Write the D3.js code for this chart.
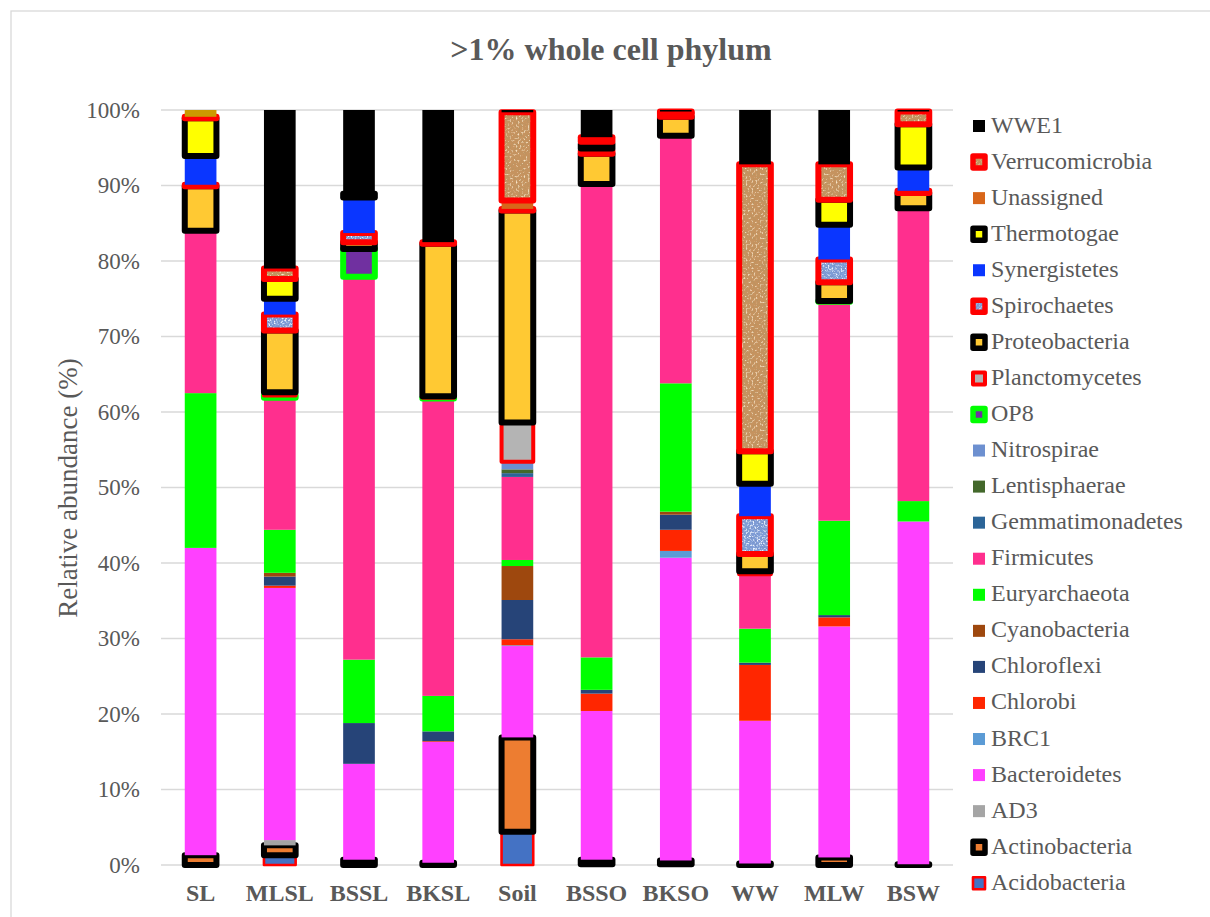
<!DOCTYPE html>
<html>
<head>
<meta charset="utf-8">
<script src="https://cdn.jsdelivr.net/npm/d3@7"></script>
<style>
  html, body { margin: 0; padding: 0; background: #fff; }
  svg { display: block; }
  text { font-family: "Liberation Serif", "Times New Roman", serif; fill: #595959; }
</style>
</head>
<body>
<svg id="chart" width="1210" height="917"></svg>
<script>
// Samples along the x axis
const samples = ["SL", "MLSL", "BSSL", "BKSL", "Soil", "BSSO", "BKSO", "WW", "MLW", "BSW"];

// Relative abundance (%) per phylum, one value per sample (same order as samples)
const acidobacteria    = [0,    1.3,  0,    0,    4.4,  0.1,  0.1,  0,    0,    0];
const actinobacteria   = [1.3,  1.3,  0.7,  0.3,  12.5, 0.6,  0.5,  0.2,  1.0,  0.1];
const ad3              = [0,    0.7,  0,    0,    0,    0,    0,    0,    0,    0];
const bacteroidetes    = [40.7, 33.4, 12.7, 16.0, 12.1, 19.7, 40.1, 18.9, 30.6, 45.4];
const brc1             = [0,    0,    0,    0,    0.1,  0,    0.9,  0,    0,    0];
const chlorobi         = [0,    0.3,  0,    0.1,  0.8,  2.3,  2.8,  7.4,  1.2,  0];
const chloroflexi      = [0,    1.2,  5.4,  1.3,  5.2,  0.5,  2.0,  0.3,  0.3,  0];
const cyanobacteria    = [0,    0.5,  0,    0,    4.5,  0,    0.4,  0,    0,    0];
const euryarchaeota    = [20.5, 5.7,  8.4,  4.7,  0.8,  4.3,  17.0, 4.5,  12.5, 2.7];
const firmicutes       = [21.5, 17.2, 50.7, 39.4, 11.0, 62.7, 32.8, 7.2,  29.0, 38.8];
const gemmatimonadetes = [0,    0.3,  0,    0,    0.5,  0,    0,    0,    0,    0];
const lentisphaerae    = [0,    0,    0,    0,    0.5,  0,    0,    0,    0,    0];
const nitrospirae      = [0,    0,    0,    0,    1.0,  0,    0,    0,    0,    0];
const op8              = [0,    0.3,  3.7,  0.1,  0,    0,    0,    0,    0.1,  0];
const planctomycetes   = [0,    0.4,  0,    0.2,  5.2,  0,    0,    0.4,  0,    0];
const proteobacteria   = [5.9,  8.2,  0.9,  20.2, 28.1, 4.0,  2.5,  2.3,  2.5,  2.0];
const spirochaetes     = [0.2,  2.1,  1.2,  0.2,  0.2,  0.4,  0.5,  5.0,  3.0,  0.3];
const synergistetes    = [3.8,  2.1,  4.7,  0,    0,    0.3,  0,    4.3,  4.6,  3.1];
const thermotogae      = [5.0,  2.6,  0.5,  0,    0,    0.6,  0,    4.3,  3.3,  5.7];
const unassigned       = [0,    0,    0,    0,    1.1,  0.3,  0,    0,    0,    0];
const verrucomicrobia  = [0.2,  1.4,  0,    0,    11.7, 0.6,  0.2,  38.0, 4.7,  1.7];
const wwe1             = [0.9,  21.0, 11.1, 17.5, 0.3,  3.6,  0.2,  7.2,  7.2,  0.2];

// Stack order, bottom to top
const phyla = ["Acidobacteria", "Actinobacteria", "AD3", "Bacteroidetes", "BRC1", "Chlorobi",
  "Chloroflexi", "Cyanobacteria", "Euryarchaeota", "Firmicutes", "Gemmatimonadetes",
  "Lentisphaerae", "Nitrospirae", "OP8", "Planctomycetes", "Proteobacteria", "Spirochaetes",
  "Synergistetes", "Thermotogae", "Unassigned", "Verrucomicrobia", "WWE1"];
const seriesValues = [acidobacteria, actinobacteria, ad3, bacteroidetes, brc1, chlorobi,
  chloroflexi, cyanobacteria, euryarchaeota, firmicutes, gemmatimonadetes, lentisphaerae,
  nitrospirae, op8, planctomycetes, proteobacteria, spirochaetes, synergistetes, thermotogae,
  unassigned, verrucomicrobia, wwe1];

const yTicks = [0, 10, 20, 30, 40, 50, 60, 70, 80, 90, 100];

// Fill / outline per phylum
const styles = {
  Acidobacteria:    { fill: "#4472C4", stroke: "#FF0000", sw: 2.6 },
  Actinobacteria:   { fill: "#ED7D31", stroke: "#000000", sw: 6 },
  AD3:              { fill: "#A5A5A5" },
  Bacteroidetes:    { fill: "#FF40FF" },
  BRC1:             { fill: "#5B9BD5" },
  Chlorobi:         { fill: "#FF2600" },
  Chloroflexi:      { fill: "#264478" },
  Cyanobacteria:    { fill: "#9E480E" },
  Euryarchaeota:    { fill: "#00FF00" },
  Firmicutes:       { fill: "#FF2F8E" },
  Gemmatimonadetes: { fill: "#2C6598" },
  Lentisphaerae:    { fill: "#43682B" },
  Nitrospirae:      { fill: "#6D90D0" },
  OP8:              { fill: "#7030A0", stroke: "#00FF00", sw: 6 },
  Planctomycetes:   { fill: "#B4B4B4", stroke: "#FF0000", sw: 4 },
  Proteobacteria:   { fill: "#FFC933", stroke: "#000000", sw: 6 },
  Spirochaetes:     { fill: "url(#denim)", stroke: "#FF0000", sw: 6 },
  Synergistetes:    { fill: "#0A36FF" },
  Thermotogae:      { fill: "#FFFF00", stroke: "#000000", sw: 6 },
  Unassigned:       { fill: "#D8661A" },
  Verrucomicrobia:  { fill: "url(#cork)", stroke: "#FF0000", sw: 6 },
  WWE1:             { fill: "#000000" }
};
// Individually recoloured data points
const pointFill = { "SL|WWE1": "#CC9900" };

const table = samples.map((s, i) => {
  const row = { sample: s };
  phyla.forEach((p, k) => { row[p] = seriesValues[k][i]; });
  return row;
});

const svg = d3.select("#chart");
const defs = svg.append("defs");

// Speckled texture fills
function texture(id, base, specks) {
  const pat = defs.append("pattern").attr("id", id)
    .attr("patternUnits", "userSpaceOnUse").attr("width", 64).attr("height", 64);
  pat.append("rect").attr("width", 64).attr("height", 64).attr("fill", base);
  specks.forEach((sp, j) => {
    const f = defs.append("filter").attr("id", id + "-n" + j)
      .attr("x", 0).attr("y", 0).attr("width", 1).attr("height", 1);
    f.append("feTurbulence").attr("type", "fractalNoise")
      .attr("baseFrequency", sp.freq).attr("numOctaves", 2).attr("seed", sp.seed)
      .attr("stitchTiles", "stitch");
    f.append("feColorMatrix").attr("type", "matrix")
      .attr("values", `0 0 0 0 ${sp.r} 0 0 0 0 ${sp.g} 0 0 0 0 ${sp.b} ${sp.k} 0 0 0 ${sp.o}`);
    pat.append("rect").attr("width", 64).attr("height", 64).attr("filter", `url(#${id}-n${j})`);
  });
}
texture("cork", "#C6935F", [
  { freq: 0.45, seed: 4, r: 0.48, g: 0.29, b: 0.12, k: 4, o: -2.1 },
  { freq: 0.5, seed: 9, r: 0.94, g: 0.8, b: 0.6, k: 4, o: -2.2 }
]);
texture("denim", "#7E9CD6", [
  { freq: 0.55, seed: 2, r: 0.18, g: 0.28, b: 0.55, k: 4, o: -2.0 },
  { freq: 0.55, seed: 7, r: 0.86, g: 0.92, b: 1.0, k: 4, o: -2.0 }
]);

// Chart frame
svg.append("rect").attr("x", 11).attr("y", 11).attr("width", 1250).attr("height", 950)
  .attr("fill", "none").attr("stroke", "#D9D9D9").attr("stroke-width", 1.3);

const plot = { left: 161, right: 953, top: 110, bottom: 865 };
const x = d3.scaleBand().domain(samples).range([plot.left, plot.right])
  .paddingInner(0.6).paddingOuter(0.3);
const y = d3.scaleLinear().domain([0, 100]).range([plot.bottom, plot.top]);

// Gridlines
svg.append("g").selectAll("line").data(yTicks).join("line")
  .attr("x1", plot.left).attr("x2", plot.right)
  .attr("y1", d => y(d)).attr("y2", d => y(d))
  .attr("stroke", "#D9D9D9").attr("stroke-width", 1.3);

// Y tick labels
svg.append("g").selectAll("text").data(yTicks).join("text")
  .attr("x", 140).attr("y", d => y(d) + 7.5)
  .attr("text-anchor", "end").attr("font-size", 23)
  .text(d => d + "%");

// Stacked bars
const stacked = d3.stack().keys(phyla)(table);
const layers = svg.append("g").selectAll("g").data(stacked).join("g");
layers.each(function (layer) {
  const st = styles[layer.key];
  d3.select(this).selectAll("rect").data(layer.filter(d => d[1] - d[0] > 0)).join("rect")
    .attr("x", d => x(d.data.sample))
    .attr("width", x.bandwidth())
    .attr("y", d => y(d[1]))
    .attr("height", d => y(d[0]) - y(d[1]))
    .attr("fill", d => pointFill[d.data.sample + "|" + layer.key] || st.fill)
    .attr("stroke", st.stroke || "none")
    .attr("stroke-width", st.sw || 0)
    .attr("stroke-linejoin", "round");
});

// X labels
svg.append("g").selectAll("text").data(samples).join("text")
  .attr("x", d => x(d) + x.bandwidth() / 2).attr("y", 901)
  .attr("text-anchor", "middle").attr("font-size", 24).attr("font-weight", "bold")
  .text(d => d);

// Title
svg.append("text").attr("x", 611).attr("y", 60).attr("text-anchor", "middle")
  .attr("font-size", 32).attr("font-weight", "bold").text(">1% whole cell phylum");

// Y axis title
svg.append("text").attr("transform", "translate(77,488) rotate(-90)")
  .attr("text-anchor", "middle").attr("font-size", 27)
  .attr("font-family", "Liberation Serif, serif").text("Relative abundance (%)");

// Legend, top entry is the top of the stack
const legendOrder = phyla.slice().reverse();
const lg = svg.append("g").selectAll("g").data(legendOrder).join("g")
  .attr("transform", (d, i) => `translate(979,${126 + i * 36.06})`);
lg.append("rect").attr("x", -6).attr("y", -6).attr("width", 12).attr("height", 12)
  .attr("fill", d => styles[d].fill)
  .attr("stroke", d => styles[d].stroke || "none")
  .attr("stroke-width", d => styles[d].stroke ? Math.min(styles[d].sw, 5.5) : 0)
  .attr("stroke-linejoin", "round");
lg.append("text").attr("x", 12).attr("y", 6.5).attr("font-size", 24).text(d => d);
</script>
</body>
</html>
